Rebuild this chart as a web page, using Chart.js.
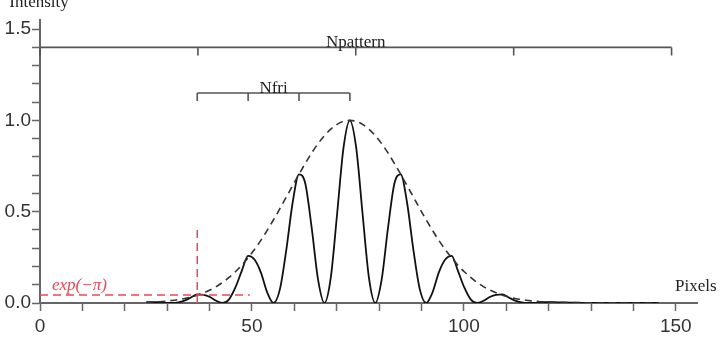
<!DOCTYPE html>
<html><head><meta charset="utf-8">
<script src="https://cdn.jsdelivr.net/npm/chart.js@4/dist/chart.umd.min.js"></script>
<style>html,body{margin:0;padding:0;background:#fff}canvas{display:block}</style>
</head><body>
<canvas id="c" width="720" height="338"></canvas>
<script>
// Pixel positions (x) sampled along the fringe pattern
const pixelX = [25.1, 26.6, 28.1, 29.6, 31.1, 32.6, 34.1, 35.6, 37.1, 38.6, 40.1, 41.6, 43.1, 44.6, 46.1, 47.6,
  49.1, 50.6, 52.1, 53.6, 55.1, 56.6, 58.1, 59.6, 61.1, 62.6, 64.1, 65.6, 67.1, 68.6, 70.1, 71.6,
  73.1, 74.6, 76.1, 77.6, 79.1, 80.6, 82.1, 83.6, 85.1, 86.6, 88.1, 89.6, 91.1, 92.6, 94.1, 95.6,
  97.1, 98.6, 100.1, 101.6, 103.1, 104.6, 106.1, 107.6, 109.1, 110.6, 112.1, 113.6, 115.1, 116.6,
  118.1, 119.6, 121.1, 132, 146];
// Fringe intensity (solid curve)
const fringeIntensity = [0.004, 0.005, 0.004, 0.001, 0, 0.003, 0.013, 0.030, 0.047, 0.045, 0.033, 0.012, 0, 0.020, 0.085, 0.176,
  0.258, 0.238, 0.168, 0.058, 0, 0.076, 0.290, 0.549, 0.705, 0.653, 0.411, 0.128, 0, 0.139, 0.489, 0.849,
  1.0, 0.849, 0.489, 0.139, 0, 0.128, 0.411, 0.653, 0.705, 0.549, 0.290, 0.076, 0, 0.058, 0.168, 0.238,
  0.258, 0.176, 0.085, 0.020, 0, 0.012, 0.033, 0.045, 0.047, 0.030, 0.013, 0.003, 0, 0.001, 0.004, 0.005,
  0.004, 0, 0];
// Gaussian envelope (dashed curve)
const envelopeIntensity = [0.004, 0.005, 0.007, 0.010, 0.014, 0.019, 0.025, 0.033, 0.043, 0.056, 0.071, 0.090, 0.113, 0.140, 0.171, 0.207,
  0.248, 0.293, 0.343, 0.398, 0.456, 0.517, 0.580, 0.643, 0.705, 0.765, 0.822, 0.873, 0.916, 0.952, 0.978, 0.995,
  1.0, 0.995, 0.978, 0.952, 0.916, 0.873, 0.822, 0.765, 0.705, 0.643, 0.580, 0.517, 0.456, 0.398, 0.343, 0.293,
  0.248, 0.207, 0.171, 0.140, 0.113, 0.090, 0.071, 0.056, 0.043, 0.033, 0.025, 0.019, 0.014, 0.010, 0.007, 0.005,
  0.004, 0.001, 0];
// exp(-pi) reference lines
const expLineX = [0, 49.5];
const expLineY = [0.0432, 0.0432];
const markerLineX = [37.1, 37.1];
const markerLineY = [0, 0.41];
// Brackets
const npatternTicks = [0, 37.25, 74.5, 111.75, 149];
const npatternLevel = 1.4;
const nfriTicks = [37.1, 49.1, 61.1, 73.1];
const nfriLevel = 1.15;
// Tick labels
const xTickLabels = ['0', '50', '100', '150'];
const yTickLabels = ['0.0', '0.5', '1.0', '1.5'];

const toPts = (xs, ys) => xs.map((x, i) => ({x: x, y: ys[i]}));
const RED = 'rgb(232,72,84)';
const SERIF = '"Liberation Serif", "Times New Roman", serif';
const SANS = '"Liberation Sans", Arial, sans-serif';

const annot = {
  id: 'annot',
  afterDatasetsDraw(chart) {
    const ctx = chart.ctx, xs = chart.scales.x, ys = chart.scales.y;
    ctx.save();
    ctx.strokeStyle = '#555';
    ctx.lineWidth = 1.6;
    const bracket = (ticks, level) => {
      const yy = ys.getPixelForValue(level);
      ctx.beginPath();
      ctx.moveTo(xs.getPixelForValue(ticks[0]), yy);
      ctx.lineTo(xs.getPixelForValue(ticks[ticks.length - 1]), yy);
      ticks.forEach(t => {
        const xx = xs.getPixelForValue(t);
        ctx.moveTo(xx, yy);
        ctx.lineTo(xx, yy + 8);
      });
      ctx.stroke();
      return yy;
    };
    const yNp = bracket(npatternTicks, npatternLevel);
    const yNf = bracket(nfriTicks, nfriLevel);
    ctx.fillStyle = '#222';
    ctx.font = '17px ' + SERIF;
    ctx.textAlign = 'center';
    ctx.textBaseline = 'alphabetic';
    ctx.fillText('Npattern', xs.getPixelForValue(74.5), yNp);
    ctx.fillText('Nfri', xs.getPixelForValue(55.1), yNf);
    ctx.fillText('Intensity', 39, 7);
    ctx.textAlign = 'left';
    ctx.fillText('Pixels', 675, 291);
    ctx.fillStyle = RED;
    ctx.font = 'italic 17px ' + SERIF;
    ctx.fillText('exp(\u2212\u03c0)', 52, ys.getPixelForValue(expLineY[0]) - 5);
    ctx.restore();
  }
};

new Chart(document.getElementById('c'), {
  type: 'line',
  data: {
    datasets: [
      {data: toPts(expLineX, expLineY), borderColor: RED, borderWidth: 1.5, borderDash: [8, 5], pointRadius: 0, tension: 0},
      {data: toPts(markerLineX, markerLineY), borderColor: RED, borderWidth: 1.5, borderDash: [8, 5], pointRadius: 0, tension: 0},
      {data: toPts(pixelX, envelopeIntensity), borderColor: '#333', borderWidth: 1.6, borderDash: [7, 5], pointRadius: 0, cubicInterpolationMode: 'monotone'},
      {data: toPts(pixelX, fringeIntensity), borderColor: '#111', borderWidth: 1.8, pointRadius: 0, cubicInterpolationMode: 'monotone'}
    ]
  },
  options: {
    responsive: false,
    animation: false,
    devicePixelRatio: 1,
    layout: {padding: {top: 20, right: 23, left: 0, bottom: 0}},
    plugins: {legend: {display: false}, tooltip: {enabled: false}},
    scales: {
      x: {
        type: 'linear', min: 0, max: 155,
        afterFit: s => { s.height = 35; },
        border: {display: true, color: '#666', width: 2},
        grid: {drawOnChartArea: false, drawTicks: true, tickLength: 8, color: '#666', tickWidth: 1.5},
        ticks: {stepSize: 10, includeBounds: false, autoSkip: false, maxRotation: 0, padding: 4,
          color: '#333', font: {family: SANS, size: 19},
          callback: v => xTickLabels.includes(String(v)) ? String(v) : ''}
      },
      y: {
        type: 'linear', min: 0, max: 1.55,
        afterFit: s => { s.width = 40; },
        border: {display: true, color: '#666', width: 2},
        grid: {drawOnChartArea: false, drawTicks: true, tickLength: 8, color: '#666', tickWidth: 1.5},
        ticks: {stepSize: 0.1, includeBounds: false, autoSkip: false, padding: 1,
          color: '#333', font: {family: SANS, size: 19},
          callback: v => { const s = Number(v).toFixed(1); return yTickLabels.includes(s) ? s : ''; }}
      }
    }
  },
  plugins: [annot]
});
</script>
</body></html>
